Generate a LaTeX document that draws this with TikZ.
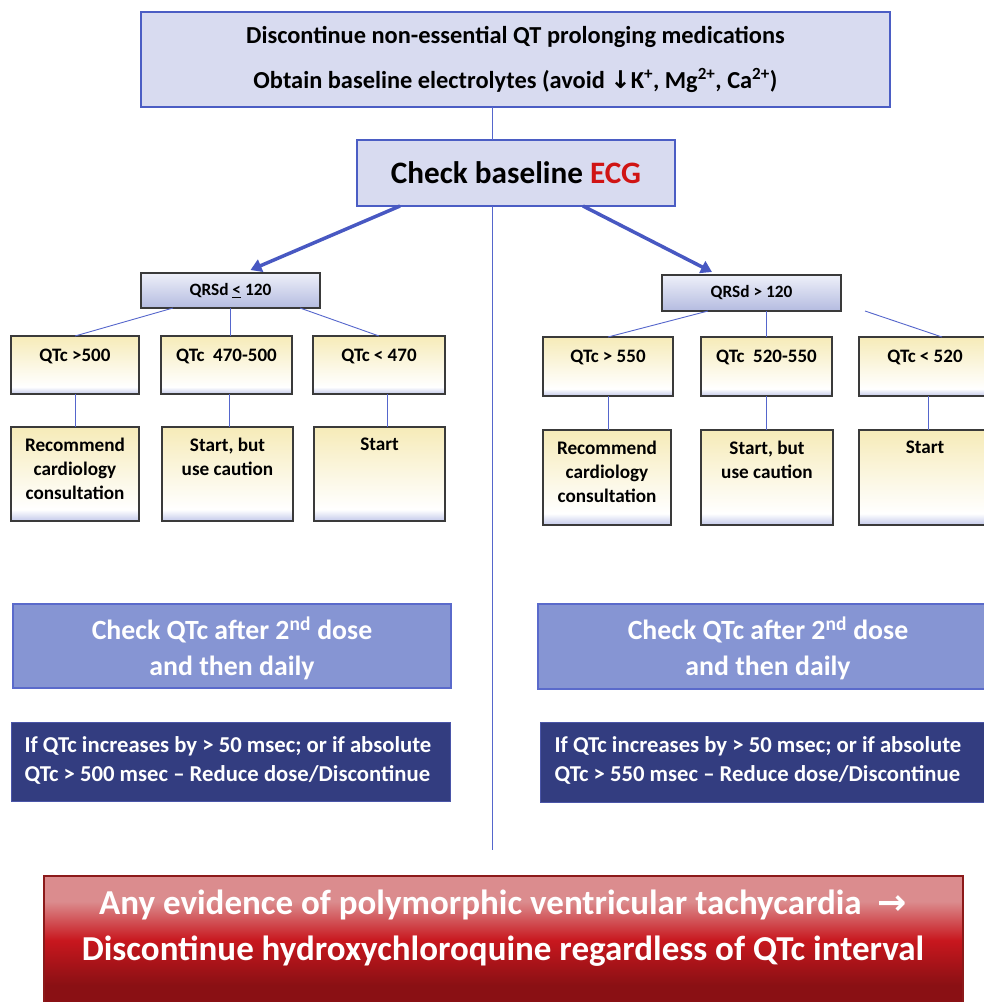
\documentclass[tikz,border=0pt]{standalone}
\usepackage{fontspec}
\setmainfont{Carlito}
\newfontfamily\symf{DejaVu Sans}
\usetikzlibrary{arrows.meta}
\definecolor{lav}{HTML}{D8DBF0}
\definecolor{bordb}{HTML}{4B5DC4}
\definecolor{connc}{HTML}{5566CC}
\definecolor{arrowc}{HTML}{4858C2}
\definecolor{qrstop}{HTML}{EEF0F9}
\definecolor{qrsbot}{HTML}{B4BBE0}
\definecolor{qcream}{HTML}{F6EBB8}
\definecolor{qblue}{HTML}{C3C9EA}
\definecolor{checkf}{HTML}{8695D3}
\definecolor{checkb}{HTML}{5A6ACB}
\definecolor{navyf}{HTML}{333D80}
\definecolor{navyb}{HTML}{4A55A8}
\definecolor{rpink}{HTML}{DB8C8E}
\definecolor{rred}{HTML}{C8171E}
\definecolor{rdark}{HTML}{8A1014}
\definecolor{rbord}{HTML}{8C1A1A}
\definecolor{ecgred}{HTML}{D01414}
\definecolor{boxgray}{HTML}{3A3A3A}
\pgfdeclareverticalshading{qtcshade}{100bp}{color(0bp)=(qblue); color(25bp)=(qblue); color(31bp)=(white); color(45bp)=(qcream!30!white); color(75bp)=(qcream); color(100bp)=(qcream)}
\pgfdeclareverticalshading{redshade}{100bp}{color(0bp)=(rdark); color(25bp)=(rdark); color(36bp)=(rdark); color(52bp)=(rred); color(66bp)=(rpink); color(75bp)=(rpink); color(100bp)=(rpink)}
\tikzset{
  conn/.style={draw=connc, line width=0.9pt},
  bigarrow/.style={draw=arrowc, line width=3.5pt, -{Triangle[length=11pt,width=13pt]}},
  basebox/.style={anchor=north west, inner sep=0pt, outer sep=0pt},
  topbox/.style={basebox, draw=bordb, line width=1.4pt, fill=lav, align=center},
  qrsbox/.style={basebox, draw=boxgray, line width=1.3pt, top color=qrstop, bottom color=qrsbot, font=\fontsize{17.3}{20}\selectfont\bfseries},
  qtcbox/.style={basebox, draw=boxgray, line width=1.2pt, shading=qtcshade},
  qtctext/.style={anchor=base, inner sep=0pt, font=\fontsize{19}{24}\selectfont\bfseries, text=black},
  outtext/.style={anchor=north, inner sep=0pt, align=center, font=\fontsize{19.2}{24}\selectfont\bfseries, text=black},
  checkbox/.style={basebox, draw=checkb, line width=1.2pt, fill=checkf},
  checktext/.style={align=center, inner sep=0pt, text=white, font=\fontsize{27.8}{36}\selectfont\bfseries},
  navybox/.style={basebox, draw=navyb, line width=1pt, fill=navyf},
  navytext/.style={align=left, inner sep=0pt, text=white, font=\fontsize{22.7}{29}\selectfont\bfseries},
  redbox/.style={basebox, draw=rbord, line width=1.2pt, shading=redshade},
  redtext/.style={align=center, inner sep=0pt, text=white, font=\fontsize{35}{46}\selectfont\bfseries},
}
\begin{document}
\begin{tikzpicture}[x=1pt, y=-1pt]
\useasboundingbox (0,0) rectangle (984,1002);
\clip (0,0) rectangle (984,1002);
\fill[white] (0,0) rectangle (984,1002);

% top box
\node[topbox, minimum width=749pt, minimum height=95pt, font=\fontsize{24.4}{45}\selectfont\bfseries] (top) at (141,12)
  {Discontinue non-essential QT prolonging medications\\Obtain baseline electrolytes (avoid {\symf\bfseries ↓}K\textsuperscript{+}, Mg\textsuperscript{2+}, Ca\textsuperscript{2+})};

% ECG box
\node[topbox, minimum width=318pt, minimum height=66pt, font=\fontsize{31.2}{36}\selectfont\bfseries] (ecg) at (357,140)
  {Check baseline \textcolor{ecgred}{ECG}};

\coordinate (vx) at (492,850);
\draw[conn] (top.south -| vx) -- (ecg.north -| vx);
\draw[conn] (ecg.south -| vx) -- (vx);

% QRS boxes
\node[qrsbox, minimum width=179pt, minimum height=35pt] (qrs1) at (141,273) {QRSd \underline{<} 120};
\node[qrsbox, minimum width=179pt, minimum height=36pt] (qrs2) at (662,275) {QRSd > 120};

\draw[bigarrow] ([xshift=-116pt]ecg.south) -- ([xshift=20pt,yshift=3pt]qrs1.north);
\draw[bigarrow] ([xshift=67pt]ecg.south) -- ([xshift=-39.5pt,yshift=3pt]qrs2.north);

% left QTc boxes
\node[qtcbox, minimum width=128pt, minimum height=58pt] (q1) at (11,336) {};
\node[qtcbox, minimum width=131pt, minimum height=58pt] (q2) at (161,336) {};
\node[qtcbox, minimum width=132pt, minimum height=58pt] (q3) at (313,336) {};
\node[qtctext] (q1t) at ([yshift=-25pt]q1.north) {QTc >500};
\node[qtctext] (q2t) at ([yshift=-25pt]q2.north) {QTc\ \ 470-500};
\node[qtctext] (q3t) at ([yshift=-25pt]q3.north) {QTc < 470};

% right QTc boxes
\node[qtcbox, minimum width=130pt, minimum height=59pt] (q4) at (543,337) {};
\node[qtcbox, minimum width=131pt, minimum height=59pt] (q5) at (701,337) {};
\node[qtcbox, minimum width=132pt, minimum height=59pt] (q6) at (859,337) {};
\node[qtctext] (q4t) at ([yshift=-25pt]q4.north) {QTc > 550};
\node[qtctext] (q5t) at ([yshift=-25pt]q5.north) {QTc\ \ 520-550};
\node[qtctext] (q6t) at ([yshift=-25pt]q6.north) {QTc < 520};

% left outcome boxes
\node[qtcbox, minimum width=128pt, minimum height=94pt] (o1) at (11,427) {};
\node[qtcbox, minimum width=131pt, minimum height=94pt] (o2) at (162,427) {};
\node[qtcbox, minimum width=131pt, minimum height=94pt] (o3) at (314,427) {};
\node[outtext] (o1t) at ([yshift=-11pt]o1.north) {Recommend\\cardiology\\consultation};
\node[outtext] (o2t) at ([yshift=-11pt]o2.north) {Start, but\\use caution};
\node[outtext] (o3t) at ([yshift=-11pt]o3.north) {Start};

% right outcome boxes
\node[qtcbox, minimum width=128pt, minimum height=95pt] (o4) at (543,430) {};
\node[qtcbox, minimum width=132pt, minimum height=95pt] (o5) at (701,430) {};
\node[qtcbox, minimum width=132pt, minimum height=95pt] (o6) at (859,430) {};
\node[outtext] (o4t) at ([yshift=-11pt]o4.north) {Recommend\\cardiology\\consultation};
\node[outtext] (o5t) at ([yshift=-11pt]o5.north) {Start, but\\use caution};
\node[outtext] (o6t) at ([yshift=-11pt]o6.north) {Start};

% connectors left
\draw[conn] ([xshift=32pt]qrs1.south west) -- (q1.north);
\draw[conn] (qrs1.south) -- (qrs1.south |- q2.north);
\draw[conn] ([xshift=-20pt]qrs1.south east) -- (q3.north);
\draw[conn] (q1.south) -- (q1.south |- o1.north);
\draw[conn] ([xshift=3pt]q2.south) -- ([xshift=3pt]q2.south |- o2.north);
\draw[conn] ([xshift=8pt]q3.south) -- ([xshift=8pt]q3.south |- o3.north);

% connectors right
\coordinate (free) at (865,311);
\draw[conn] ([xshift=46pt]qrs2.south west) -- (q4.north);
\draw[conn] (q5.north |- qrs2.south) -- (q5.north);
\draw[conn] (free) -- ([xshift=17pt]q6.north);
\draw[conn] (q4.south) -- (q4.south |- o4.north);
\draw[conn] (q5.south) -- (q5.south |- o5.north);
\draw[conn] ([xshift=3pt]q6.south) -- ([xshift=3pt]q6.south |- o6.north);

% check QTc boxes
\node[checkbox, minimum width=438pt, minimum height=84pt] (c1) at (13,604) {};
\node[checkbox, minimum width=460pt, minimum height=85pt] (c2) at (538,604) {};
\node[checktext] (c1t) at (232,648) {Check QTc after 2\textsuperscript{nd} dose\\and then daily};
\node[checktext] (c2t) at (768,648) {Check QTc after 2\textsuperscript{nd} dose\\and then daily};

% navy boxes
\node[navybox, minimum width=439pt, minimum height=79pt] (n1) at (11,722) {};
\node[navybox, minimum width=450pt, minimum height=80pt] (n2) at (540,722) {};
\node[navytext] (n1t) at (228,760) {If QTc increases by > 50 msec; or if absolute\\QTc > 500 msec – Reduce dose/Discontinue};
\node[navytext] (n2t) at (758,760) {If QTc increases by > 50 msec; or if absolute\\QTc > 550 msec – Reduce dose/Discontinue};

% bottom red box
\node[redbox, minimum width=919pt, minimum height=140pt] (red) at (44,876) {};
\node[redtext] (redt) at (503,928) {Any evidence of polymorphic ventricular tachycardia\ \ {\symf →}\\Discontinue hydroxychloroquine regardless of QTc interval};
\end{tikzpicture}
\end{document}
